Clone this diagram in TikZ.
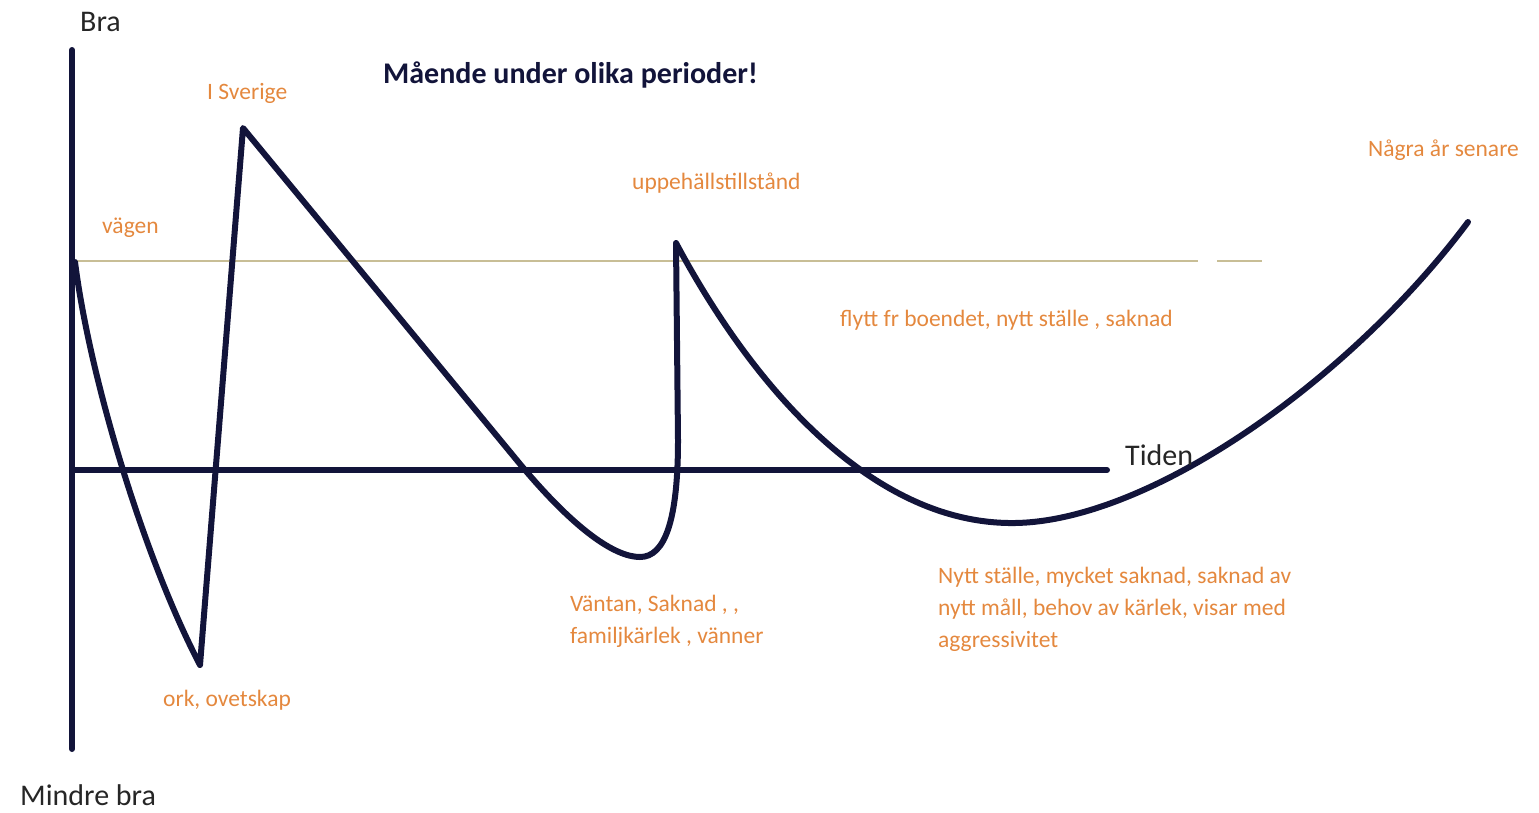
\documentclass[tikz,border=0pt]{standalone}
\usepackage{fontspec}
\setmainfont{Carlito}
\definecolor{navy}{RGB}{18,20,58}
\definecolor{lbl}{RGB}{228,136,62}
\definecolor{tan}{RGB}{200,190,150}
\tikzset{
  axisline/.style={draw=navy,line width=6pt,line cap=round},
  curve/.style={draw=navy,line width=6pt,line cap=round,line join=round},
  refline/.style={draw=tan,line width=2pt},
  axislabel/.style={text=black!85,inner sep=0pt,anchor=west,font=\fontsize{30}{34}\selectfont},
  note/.style={text=lbl,inner sep=0pt,anchor=west,align=left,font=\fontsize{23.5}{32}\selectfont},
  titlelbl/.style={text=navy,inner sep=0pt,anchor=west,font=\bfseries\fontsize{30}{32}\selectfont}
}
\begin{document}
\begin{tikzpicture}[x=1pt,y=-1pt]
\useasboundingbox (0,0) rectangle (1539,812);
% reference line
\coordinate (r0) at (75,261);
\coordinate (r1) at (1198,261);
\coordinate (r2) at (1217,261);
\coordinate (r3) at (1262,261);
\draw[refline] (r0) -- (r1);
\draw[refline] (r2) -- (r3);
% axes
\coordinate (ytop) at (72,50);
\coordinate (ybot) at (72,749);
\coordinate (xl) at (72,470);
\coordinate (xr) at (1107,470);
\draw[axisline] (ytop) -- (ybot);
\draw[axisline] (xl) -- (xr);
% curve
\coordinate (p0) at (75,262);
\coordinate (p1) at (200,665);
\coordinate (p2) at (243,128);
\coordinate (p3) at (520,464);
\coordinate (pv) at (640,557);
\coordinate (p4) at (678,440);
\coordinate (p5) at (676,243);
\coordinate (p6) at (1015,523);
\coordinate (p7) at (1468,222);
\draw[curve] (p0) .. controls (90,380) and (145,560) .. (p1)
  -- (p2) -- (p3) .. controls (575,530) and (615,557) .. (pv)
  .. controls (665,557) and (678,520) .. (p4) -- (p5)
  .. controls (760,400) and (880,525) .. (p6)
  .. controls (1150,521) and (1350,380) .. (p7);
% labels
\node[axislabel] (bra) at (80,22) {Bra};
\node[axislabel] (mindre) at (20,795) {Mindre bra};
\node[axislabel] (tiden) at (1125,455) {Tiden};
\node[titlelbl] (title) at (383,75) {Mående under olika perioder!};
\node[note] (sverige) at (207,93) {I Sverige};
\node[note] (vagen) at (102,228) {vägen};
\node[note] (uppe) at (632,183) {uppehällstillstånd};
\node[note] (nagra) at (1368,150) {Några år senare};
\node[note] (flytt) at (840,320) {flytt fr boendet, nytt ställe , saknad};
\node[note] (vantan) at (570,621) {Väntan, Saknad , ,\\familjkärlek , vänner};
\node[note] (nytt) at (938,609) {Nytt ställe, mycket saknad, saknad av\\nytt måll, behov av kärlek, visar med\\aggressivitet};
\node[note] (ork) at (163,700) {ork, ovetskap};
\end{tikzpicture}
\end{document}
